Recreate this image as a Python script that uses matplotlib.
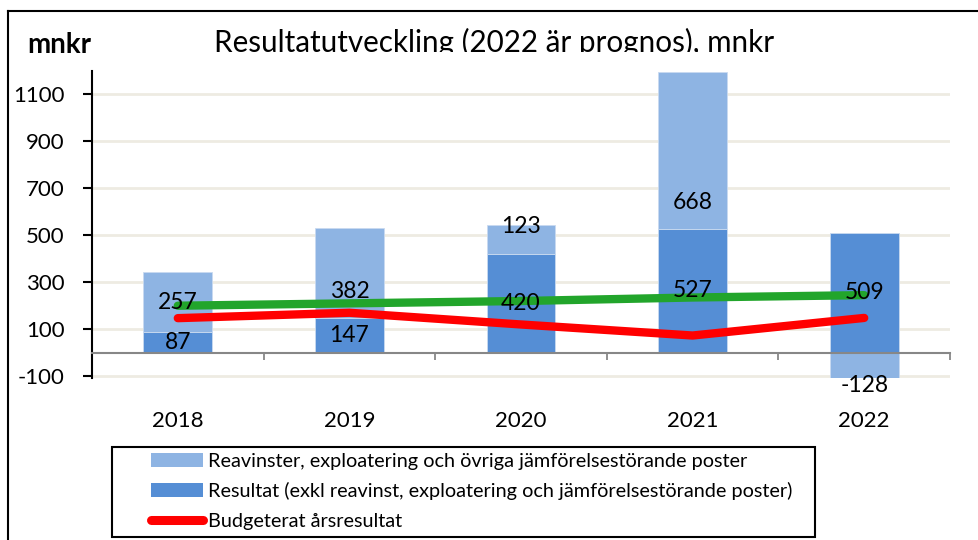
import matplotlib
matplotlib.use("Agg")
import matplotlib.pyplot as plt
from matplotlib.patches import Rectangle, Patch
from matplotlib.lines import Line2D
import numpy as np

# ---------------- data ----------------
years = ["2018", "2019", "2020", "2021", "2022"]
resultat = [87, 147, 420, 527, 509]          # Resultat (exkl reavinst ...)
reavinster = [257, 382, 123, 668, -128]      # Reavinster, exploatering ...
budget = [147, 170, 120, 73, 148]            # Budgeterat årsresultat
trend = [200, 210, 220, 235, 245]            # green line
y_ticks = [-100, 100, 300, 500, 700, 900, 1100]

# label placement (layout only, data units)
light_label_pos = [215, 262, 539, 640, -139]

# ---------------- figure ----------------
plt.rcParams['font.family'] = ['Lato', 'DejaVu Sans']
W, H = 979, 540
fig = plt.figure(figsize=(W / 100, H / 100), dpi=100)


def fx(px):
    return px / W


def fy(py):
    return 1 - py / H


ax = fig.add_axes([fx(92), fy(378), fx(950) - fx(92), fy(71) - fy(378)])
x = np.arange(len(years))
light = "#8EB4E3"
dark = "#558ED5"
edge = "#C9DAF0"

ax.bar(x, resultat, width=0.4, color=dark, edgecolor=edge, linewidth=0.6, zorder=2)
light_bottom = [r if v >= 0 else 0 for r, v in zip(resultat, reavinster)]
ax.bar(x, reavinster, bottom=light_bottom, width=0.4, color=light,
       edgecolor=edge, linewidth=0.6, zorder=2)

ax.plot(x, trend, color="#22A52B", lw=6, solid_capstyle='round',
        solid_joinstyle='round', zorder=3)
ax.plot(x, budget, color="#FF0000", lw=6, solid_capstyle='round',
        solid_joinstyle='round', zorder=4)

lab_fs = 16.5
for i, r in enumerate(resultat):
    ax.text(i, r / 2, str(r), ha='center', va='center', fontsize=lab_fs, zorder=6)
for i, (v, p) in enumerate(zip(reavinster, light_label_pos)):
    ax.text(i, p, str(v), ha='center', va='center', fontsize=lab_fs, zorder=6,
            clip_on=False)

ax.set_xlim(-0.5, 4.5)
ax.set_ylim(-108, 1200)

for s in ['top', 'right']:
    ax.spines[s].set_visible(False)
ax.spines['left'].set_color('black')
ax.spines['left'].set_linewidth(1.5)
ax.spines['bottom'].set_position(('data', 0))
ax.spines['bottom'].set_color('#878787')
ax.spines['bottom'].set_linewidth(1.5)

ax.set_yticks(y_ticks)
ax.set_yticklabels([str(t) for t in y_ticks])
ax.tick_params(axis='y', length=6.5, width=1.5, pad=13, labelsize=16, color='black')

ax.set_xticks(x)
ax.set_xticklabels(years)
ax.set_xticks(np.arange(-0.5, 5, 1), minor=True)
ax.tick_params(axis='x', which='major', length=0, pad=42, labelsize=16)
ax.tick_params(axis='x', which='minor', length=5, width=1.3, color='#878787')

ax.yaxis.grid(True, color='#EEEBE2', lw=2)
ax.set_axisbelow(True)

# ---------------- titles ----------------
t = fig.text(fx(494), fy(42), "Resultatutveckling (2022 är prognos), mnkr",
             ha='center', va='center', fontsize=21.3)
clip_rect = Rectangle((0, fy(52)), 1, 1 - fy(52), transform=fig.transFigure)
t.set_clip_path(clip_rect)
t.set_clip_on(True)
fig.text(fx(27), fy(45), "mnkr", ha='left', va='center', fontsize=20,
         fontweight='bold')

# ---------------- frame ----------------
fig.add_artist(Line2D([fx(8), fx(8)], [fy(10.5), 0], transform=fig.transFigure,
                      color='black', lw=1.5))
fig.add_artist(Line2D([fx(8), 1], [fy(10.5), fy(10.5)], transform=fig.transFigure,
                      color='black', lw=1.5))

# ---------------- legend ----------------
fig.add_artist(Rectangle((fx(112), fy(537)), fx(815) - fx(112), fy(447) - fy(537),
                         transform=fig.transFigure, fill=False, edgecolor='black',
                         lw=1.5))
handles = [Patch(facecolor=light), Patch(facecolor=dark),
           Line2D([], [], color='#FF0000', lw=6.5, solid_capstyle='round')]
labels = ["Reavinster, exploatering och övriga jämförelsestörande poster",
          "Resultat (exkl reavinst, exploatering och jämförelsestörande poster)",
          "Budgeterat årsresultat"]
fig.legend(handles, labels, loc='upper left', bbox_to_anchor=(fx(151), fy(453)),
           frameon=False, fontsize=14.3, borderpad=0, borderaxespad=0,
           handlelength=2.6, handletextpad=0.25, labelspacing=0.62)

fig.savefig("out.png", dpi=100)
